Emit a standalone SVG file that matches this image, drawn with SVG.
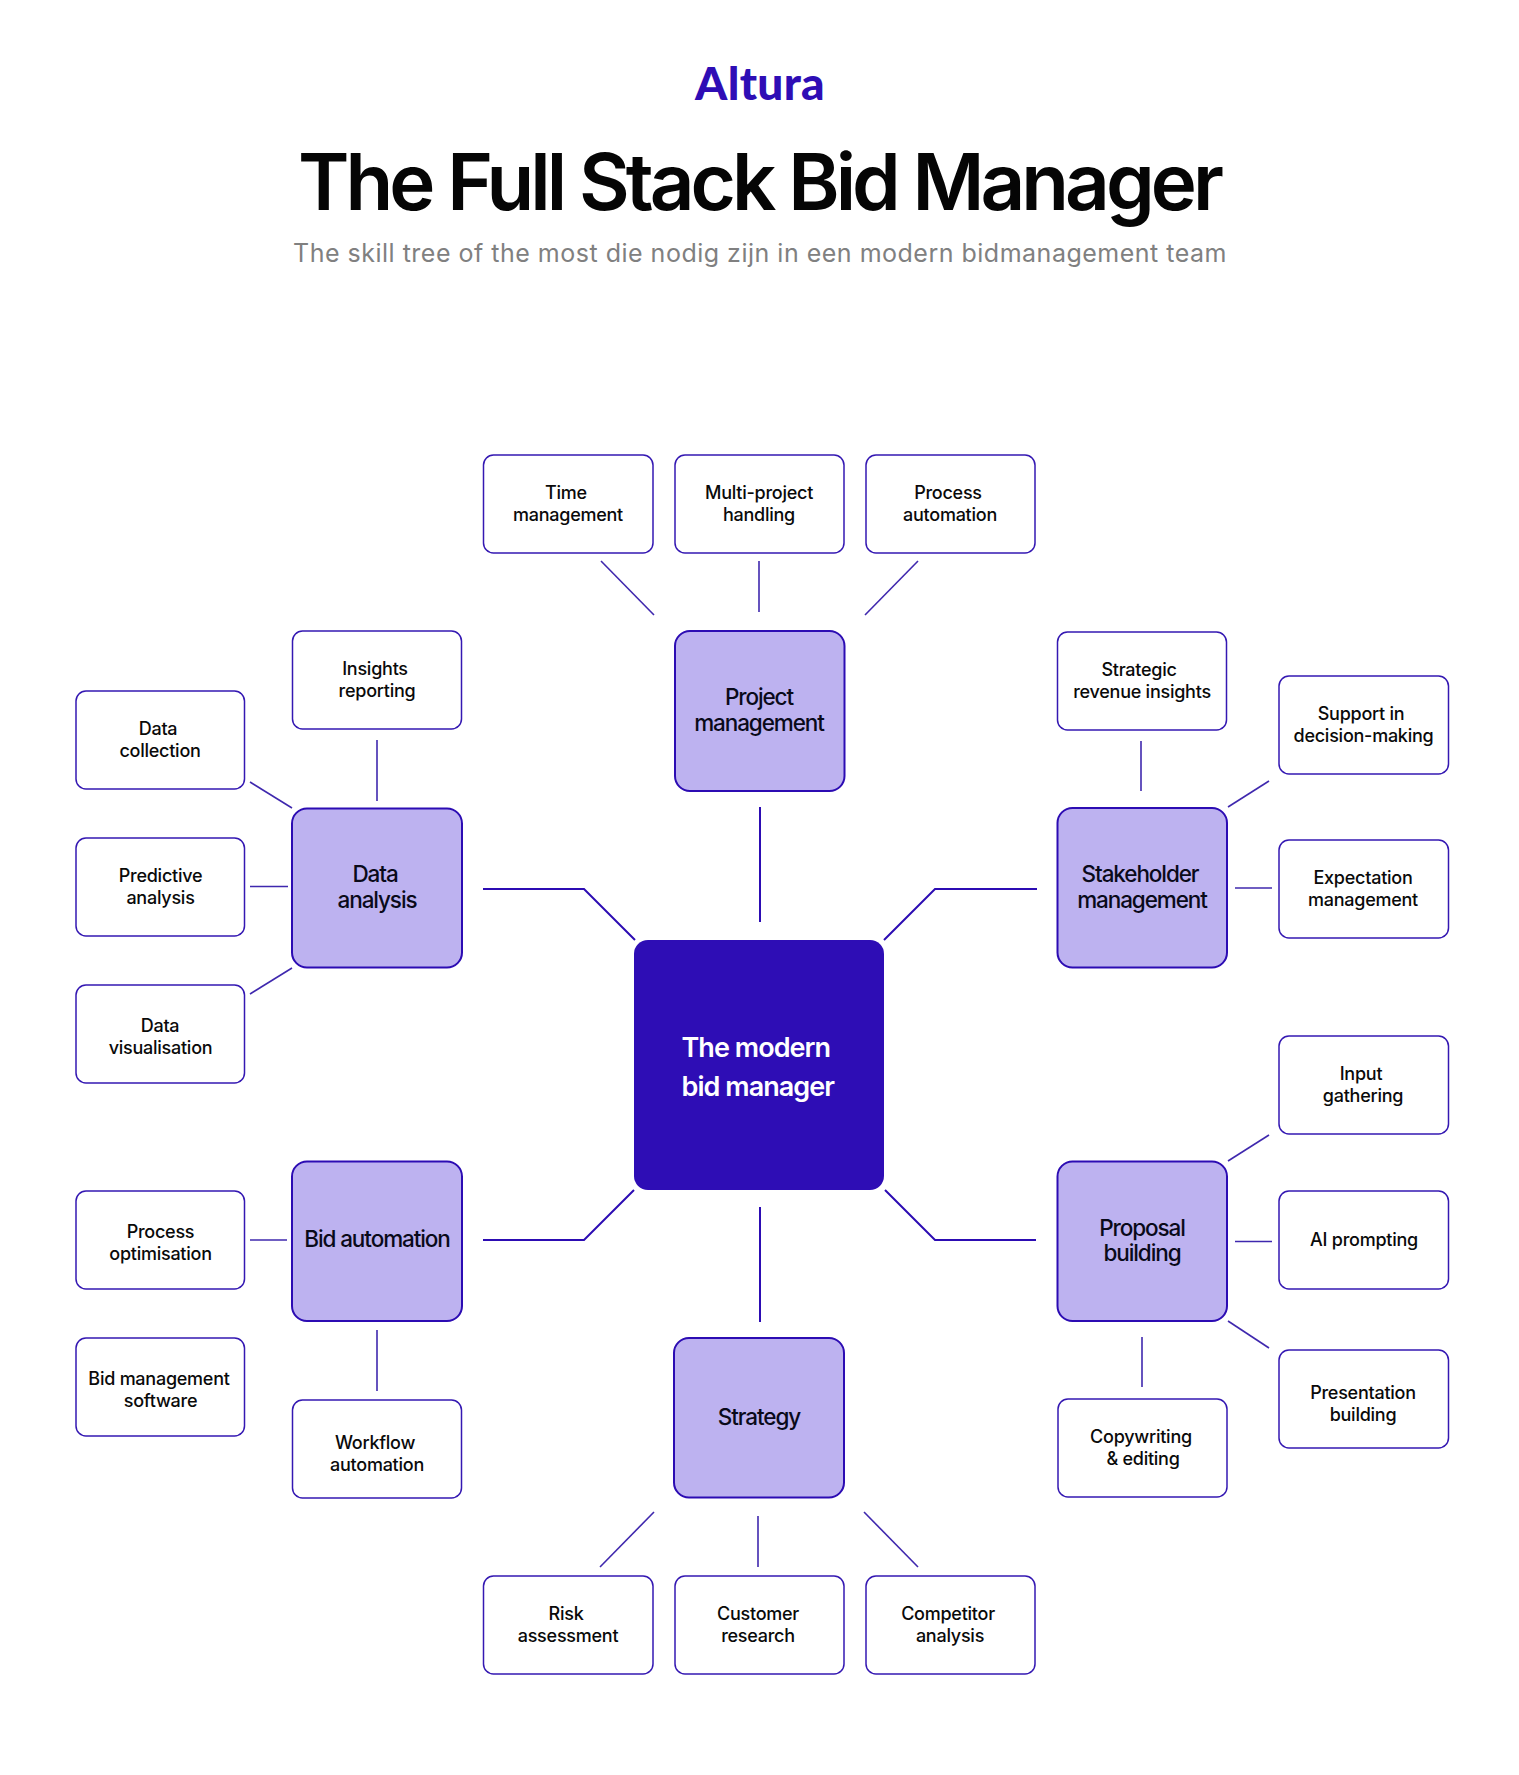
<svg xmlns="http://www.w3.org/2000/svg" width="1519" height="1775" viewBox="0 0 1519 1775">
<style>
text{font-family:"Inter","Liberation Sans",sans-serif;text-anchor:middle}
.leaf rect{fill:#fff;stroke:#3418b2;stroke-width:1.5}
.leaf text{font-size:18px;font-weight:550;fill:#0a0a0a;letter-spacing:-.25px}
.hub rect{fill:#bdb2f0;stroke:#2c0cb3;stroke-width:2}
.hub text{font-size:22.5px;font-weight:500;fill:#0a0a1a;letter-spacing:-1.1px}
.core rect{fill:#2e0db5}
.core text{font-size:27px;font-weight:560;fill:#fff;letter-spacing:-.95px;text-anchor:start}
#connectors path{fill:none;stroke:#3f28ae;stroke-width:1.6}
#connectors .main{stroke:#2c0cb3;stroke-width:2}
</style>
<rect width="1519" height="1775" fill="#fff"/>
<g id="header">
<text x="760" y="100" style="font-family:'Lato','Liberation Sans',sans-serif;font-size:46px;font-weight:900;fill:#2e0db5;letter-spacing:.3px">Altura</text>
<text x="759" y="210" style="font-size:78px;font-weight:600;fill:#050505;letter-spacing:-3.95px">The Full Stack Bid Manager</text>
<text x="760" y="262" style="font-size:25px;font-weight:400;fill:#808080;letter-spacing:.5px">The skill tree of the most die nodig zijn in een modern bidmanagement team</text>
</g>
<g id="connectors">
<path d="M601 561L654 615"/><path d="M759 561V612"/><path d="M918 561L865 615"/>
<path class="main" d="M760 807V922"/>
<path d="M377 740V801"/><path d="M250 782L292 808"/><path d="M250 886.500H288"/><path d="M250 994L292 968"/>
<path class="main" d="M483 889H584L635 940"/>
<path class="main" d="M884 940L935 889H1037"/>
<path d="M1141 741V791"/><path d="M1228 807L1269 781"/><path d="M1235 888H1272"/>
<path d="M1228 1161L1269 1135"/><path d="M1235 1241.500H1272"/><path d="M1228 1321L1269 1348"/><path d="M1142 1337V1387"/>
<path class="main" d="M885 1190L935 1240H1036"/>
<path class="main" d="M760 1207V1322"/>
<path class="main" d="M634 1190L584 1240H483"/>
<path d="M250 1240H287"/><path d="M377 1330V1391"/>
<path d="M654 1512L600 1567"/><path d="M758 1516V1567"/><path d="M864 1512L918 1567"/>
</g>
<g id="core" class="core"><rect x="634" y="940" width="250" height="250" rx="14"/><text x="681.500" y="1057">The modern</text><text x="681.500" y="1095.500">bid manager</text></g>
<g id="project" class="hub"><rect x="675" y="631" width="169.500" height="160" rx="15"/><text x="759" y="705">Project</text><text x="759" y="731">management</text></g>
<g id="data" class="hub"><rect x="292" y="808.500" width="170" height="159" rx="15"/><text x="375" y="882">Data</text><text x="377" y="908">analysis</text></g>
<g id="stakeholder" class="hub"><rect x="1057.500" y="808" width="169.500" height="159.500" rx="15"/><text x="1140" y="882">Stakeholder</text><text x="1142" y="908">management</text></g>
<g id="proposal" class="hub"><rect x="1057.500" y="1161.500" width="169.500" height="159.500" rx="15"/><text x="1142" y="1235.500">Proposal</text><text x="1142" y="1261">building</text></g>
<g id="strategy" class="hub"><rect x="674" y="1338" width="170" height="159.500" rx="15"/><text x="759" y="1425">Strategy</text></g>
<g id="bidautomation" class="hub"><rect x="292" y="1161.500" width="170" height="159.500" rx="15"/><text x="377" y="1247">Bid automation</text></g>
<g id="time" class="leaf"><rect x="483.500" y="455" width="169.500" height="98" rx="10"/><text x="566" y="499">Time</text><text x="568" y="521">management</text></g>
<g id="multi" class="leaf"><rect x="675" y="455" width="169" height="98" rx="10"/><text x="759" y="499">Multi-project</text><text x="759" y="521">handling</text></g>
<g id="processauto" class="leaf"><rect x="866" y="455" width="169" height="98" rx="10"/><text x="948" y="499">Process</text><text x="950" y="521">automation</text></g>
<g id="insights" class="leaf"><rect x="292.500" y="631" width="169" height="98" rx="10"/><text x="375" y="675">Insights</text><text x="377" y="697">reporting</text></g>
<g id="collection" class="leaf"><rect x="76" y="691" width="168.500" height="98" rx="10"/><text x="158" y="735">Data</text><text x="160" y="757">collection</text></g>
<g id="predictive" class="leaf"><rect x="76" y="838" width="168.500" height="98" rx="10"/><text x="160.500" y="882">Predictive</text><text x="160.500" y="904">analysis</text></g>
<g id="visualisation" class="leaf"><rect x="76" y="985" width="168.500" height="98" rx="10"/><text x="160" y="1032">Data</text><text x="160.500" y="1054">visualisation</text></g>
<g id="strategic" class="leaf"><rect x="1057.500" y="632" width="169" height="98" rx="10"/><text x="1139" y="676">Strategic</text><text x="1142" y="698">revenue insights</text></g>
<g id="support" class="leaf"><rect x="1279" y="676" width="169.500" height="98" rx="10"/><text x="1361" y="720">Support in</text><text x="1363.500" y="742">decision-making</text></g>
<g id="expectation" class="leaf"><rect x="1279" y="840" width="169.500" height="98" rx="10"/><text x="1363" y="884">Expectation</text><text x="1363" y="906">management</text></g>
<g id="input" class="leaf"><rect x="1279" y="1036" width="169.500" height="98" rx="10"/><text x="1361" y="1080">Input</text><text x="1363" y="1102">gathering</text></g>
<g id="ai" class="leaf"><rect x="1279" y="1191" width="169.500" height="98" rx="10"/><text x="1364" y="1246">AI prompting</text></g>
<g id="presentation" class="leaf"><rect x="1279" y="1350" width="169.500" height="98" rx="10"/><text x="1363" y="1399">Presentation</text><text x="1363" y="1421">building</text></g>
<g id="copywriting" class="leaf"><rect x="1058" y="1399" width="169" height="98" rx="10"/><text x="1141" y="1443">Copywriting</text><text x="1143" y="1465">&amp; editing</text></g>
<g id="optimisation" class="leaf"><rect x="76" y="1191" width="168.500" height="98" rx="10"/><text x="160.500" y="1238">Process</text><text x="160.500" y="1260">optimisation</text></g>
<g id="software" class="leaf"><rect x="76" y="1338" width="168.500" height="98" rx="10"/><text x="159" y="1385">Bid management</text><text x="160.500" y="1407">software</text></g>
<g id="workflow" class="leaf"><rect x="292.500" y="1400" width="169" height="98" rx="10"/><text x="375" y="1449">Workflow</text><text x="377" y="1471">automation</text></g>
<g id="risk" class="leaf"><rect x="483.500" y="1576" width="169.500" height="98" rx="10"/><text x="566" y="1620">Risk</text><text x="568" y="1642">assessment</text></g>
<g id="customer" class="leaf"><rect x="675" y="1576" width="169" height="98" rx="10"/><text x="758" y="1620">Customer</text><text x="758" y="1642">research</text></g>
<g id="competitor" class="leaf"><rect x="866" y="1576" width="169" height="98" rx="10"/><text x="948" y="1620">Competitor</text><text x="950" y="1642">analysis</text></g>
</svg>
